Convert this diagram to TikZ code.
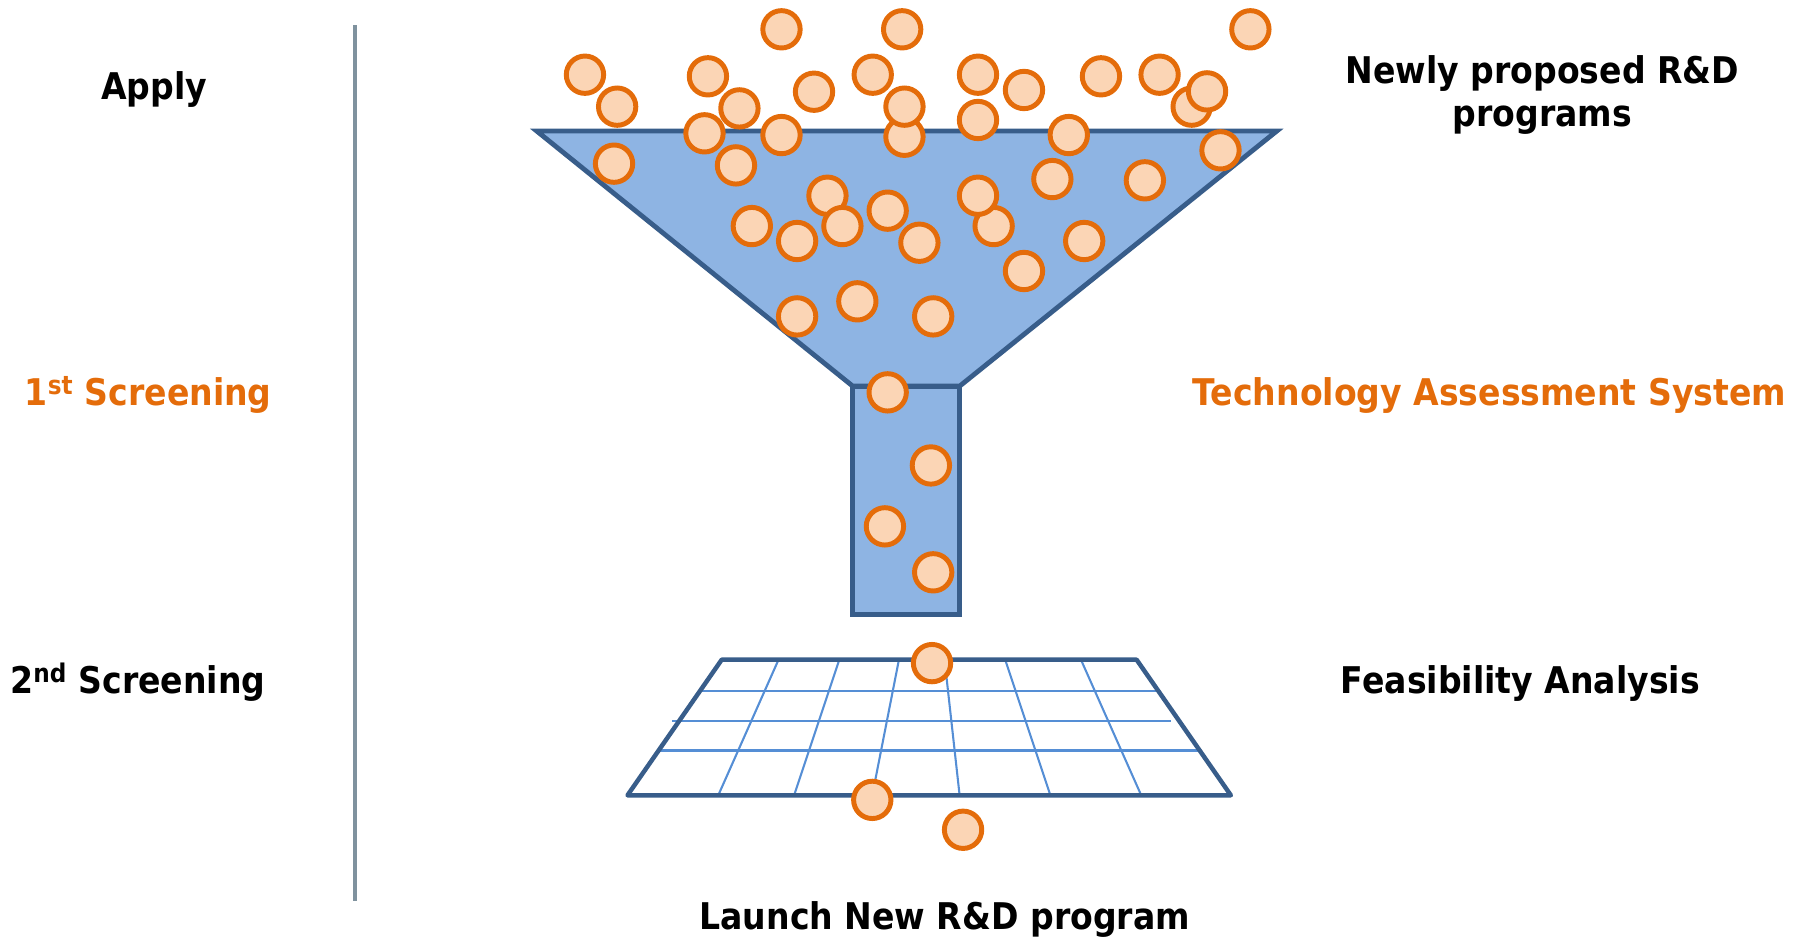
\documentclass[tikz,border=0pt]{standalone}
\usepackage{fontspec}
\setmainfont{DejaVu Sans}[FakeStretch=0.9]
\usetikzlibrary{positioning}

\definecolor{ballfill}{RGB}{251,213,181}
\definecolor{balldraw}{RGB}{228,108,10}
\definecolor{funnelfill}{RGB}{142,180,227}
\definecolor{funneldraw}{RGB}{56,93,138}
\definecolor{gridline}{RGB}{85,142,213}
\definecolor{sepline}{RGB}{127,146,158}

\tikzset{
  ball/.style={circle,draw=balldraw,fill=ballfill,line width=4.3pt,minimum size=32.5pt,inner sep=0pt},
  funnel/.style={draw=funneldraw,fill=funnelfill,line width=4.2pt},
  stagetext/.style={font=\bfseries\fontsize{32}{38}\selectfont,align=center,anchor=base},
}

\begin{document}
\begin{tikzpicture}[x=1pt,y=-1pt]
	\useasboundingbox (0,0) rectangle (1568,815);
	% stages on the left
	\draw[sepline,line width=3.8pt] (309,22) -- (309,784);
	\node[stagetext] (apply) at (134,87) {Apply};
	\node[stagetext,text=balldraw] (first) at (129,352.5) {1\textsuperscript{st} Screening};
	\node[stagetext] (second) at (120,603) {2\textsuperscript{nd} Screening};
	% descriptions on the right
	\node[stagetext] (newly) at (1342,110.5) {Newly proposed R\&D\\programs};
	\node[stagetext,text=balldraw] (tas) at (1296,352.5) {Technology Assessment System};
	\node[stagetext] (feas) at (1323,603) {Feasibility Analysis};
	\node[stagetext] (launch) at (822,809) {Launch New R\&D program};
	% funnel
	\draw[funnel] (467,114) -- (1111,114) -- (835,336) -- (742,336) -- cycle;
	\draw[funnel] (742,336) rectangle (835,535);
	% grid
	\coordinate (gtl) at (628,574);
	\coordinate (gtr) at (989,574);
	\coordinate (gbr) at (1071,692);
	\coordinate (gbl) at (546,692);
	\draw[gridline,line width=1.8pt]
		(611,601) -- (1006,601)
		(585,627) -- (1019,627)
		(572,653) -- (1044,653);
	\foreach \t/\b in {677/625,730/691,782/759,822/835,875/914,941/993}
		\draw[gridline,line width=1.8pt] (\t,575) -- (\b,692);
	\draw[funneldraw,line width=3.9pt,line join=round] (gtl) -- (gtr) -- (gbr) -- (gbl) -- cycle;
	% programs
	\foreach \x/\y [count=\i] in {
		680/25.5,785/25.5,1088/25.5,
		509/65,616/66.4,759.4/65,851/65,958/66.4,1009/65,
		537/92.8,643.4/94.3,708.3/79.8,787/119,787/92.8,891/78.3,1036.9/92.8,1050.3/79.5,
		613/116,680/117.5,851/104.4,930/117.5,1062/130.8,
		534.3/142.4,640.4/143.9,915.7/155.8,996.2/156.9,
		720/170.3,733/196.7,772.4/183.3,864.6/196.7,851/170.3,
		654.2/196.7,693.6/209.7,800/211.2,943.4/209.7,
		891/235.8,746/262.2,693.6/275.3,812/275.3,
		772.4/341.4,810/405,770/458,812/498,
		811/577,759/696,838/722}
		\node[ball] (ball\i) at (\x,\y) {};
\end{tikzpicture}
\end{document}
